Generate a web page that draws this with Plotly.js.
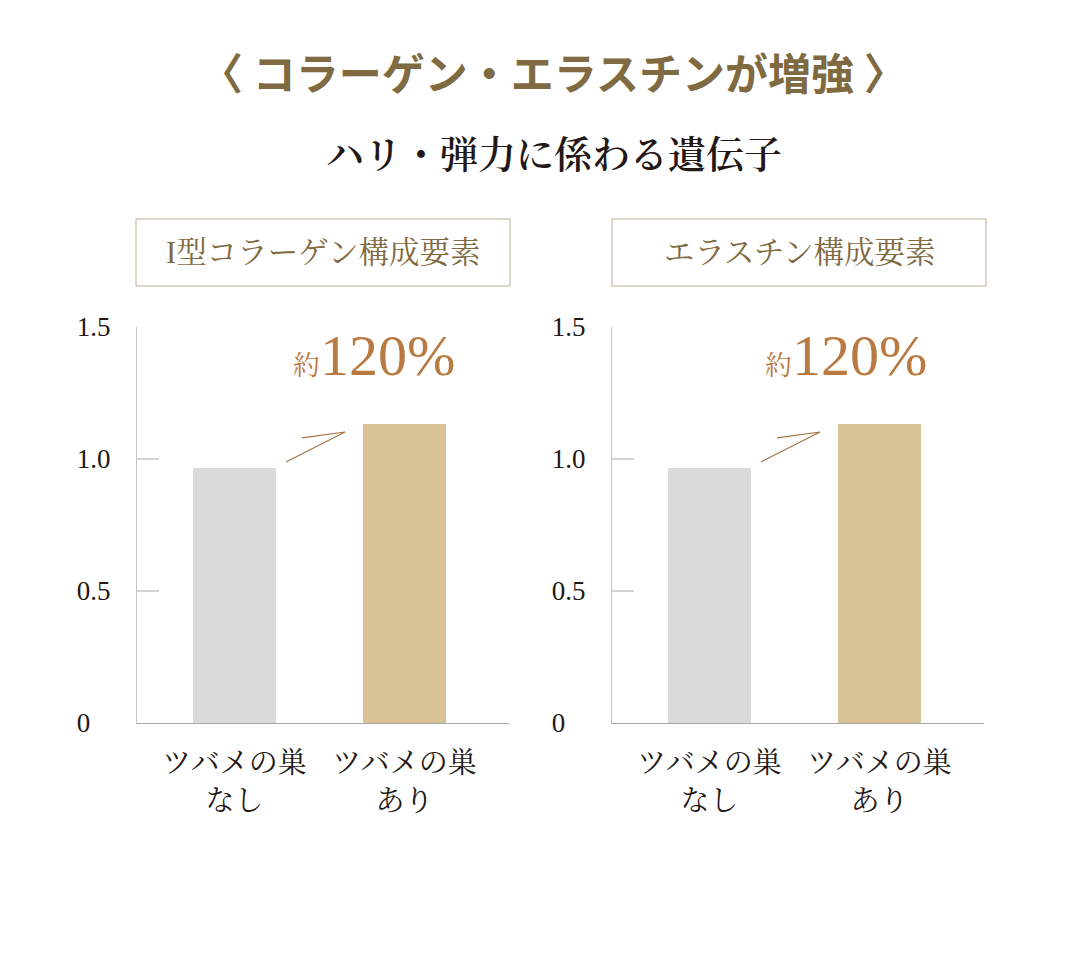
<!DOCTYPE html>
<html>
<head>
<meta charset="utf-8">
<script src="https://cdn.plot.ly/plotly-3.0.1.min.js"></script>
<style>
  html, body { margin: 0; padding: 0; background: #ffffff; }
  #chart { width: 1080px; height: 962px; }
</style>
</head>
<body>
<div id="chart"></div>
<script>
// ---- data ----
const categories = ["ツバメの巣<br>なし", "ツバメの巣<br>あり"];
const collagenValues = [0.966, 1.133];
const elastinValues = [0.966, 1.133];
const barColors = ["#dadada", "#d9c295"];
const yTickVals = [0, 0.5, 1.0, 1.5];
const yTickText = ["0", "0.5", "1.0", "1.5"];
const panelTitles = ["I型コラーゲン構成要素", "エラスチン構成要素"];
const mainTitle = "〈 コラーゲン・エラスチンが増強 〉";
const subTitle = "ハリ・弾力に係わる遺伝子";
const increaseLabel = "約120%";

// ---- layout helpers ----
const W = 1080, H = 962;
const px = v => v / W;
const py = v => 1 - v / H;
const serif = "Liberation Serif, 'Noto Serif CJK JP', 'Noto Sans CJK JP', serif";
const sansJP = "'Noto Sans CJK JP', sans-serif";
const axisColor = "#a8a8a8";
const textDark = "#231815";
const gold = "#7f6a41";
const orange = "#b97a42";

// left-align tick labels by padding short labels with invisible characters
const yTickLabels = yTickText.map(t => t.length < 3
  ? t + '<span style="fill-opacity:0">' + ".5".slice(0, 3 - t.length) + '</span>'
  : t);

function barTrace(vals, xa, ya) {
  return {
    type: "bar", x: categories, y: vals, xaxis: xa, yaxis: ya,
    width: 0.488, marker: { color: barColors, line: { width: 0 } },
    hoverinfo: "skip", showlegend: false
  };
}

function xAxis(d0, d1, anchor) {
  return {
    domain: [px(d0), px(d1)], anchor: anchor, type: "category",
    range: [-0.574, 1.615], showline: true, linecolor: axisColor, linewidth: 1,
    ticks: "", showgrid: false, zeroline: false, fixedrange: true,
    tickfont: { family: serif, size: 29, color: textDark },
    ticklabelstandoff: 14
  };
}
function yAxis(anchor) {
  return {
    domain: [py(723), py(327)], anchor: anchor, range: [0, 1.5],
    tickvals: yTickVals, ticktext: yTickLabels, ticks: "",
    showline: true, linecolor: "#c4c4c4", linewidth: 1.2,
    showgrid: false, zeroline: false, fixedrange: true,
    tickfont: { family: serif, size: 27, color: textDark },
    ticklabelstandoff: 20
  };
}

const panels = [
  { left: 137, right: 509, boxL: 136, boxR: 510, xa: "x", ya: "y", lbl: 295 },
  { left: 612, right: 984, boxL: 612, boxR: 986, xa: "x2", ya: "y2", lbl: 767 }
];

const shapes = [];
const annotations = [
  { text: mainTitle, xref: "paper", yref: "paper", x: px(553), y: py(71),
    xanchor: "center", yanchor: "middle", showarrow: false,
    font: { family: sansJP, size: 43, color: gold, weight: 700 } },
  { text: subTitle, xref: "paper", yref: "paper", x: px(554), y: py(155),
    xanchor: "center", yanchor: "middle", showarrow: false,
    font: { family: serif, size: 38, color: textDark, weight: 600 } }
];

panels.forEach((p, i) => {
  shapes.push({ type: "rect", xref: "paper", yref: "paper",
    x0: px(p.boxL), x1: px(p.boxR), y0: py(286), y1: py(219),
    line: { color: "#bcae93", width: 1 }, fillcolor: "rgba(0,0,0,0)" });
  annotations.push({ text: panelTitles[i], xref: "paper", yref: "paper",
    x: px((p.boxL + p.boxR) / 2), y: py(253), xanchor: "center", yanchor: "middle",
    showarrow: false, font: { family: serif, size: 30.5, color: gold } });
  // inner tick marks
  [0.5, 1.0].forEach(v => {
    shapes.push({ type: "line", xref: p.xa + " domain", yref: p.ya,
      x0: 0, x1: 22 / 372, y0: v, y1: v, line: { color: axisColor, width: 1 } });
  });
  // wedge pointer
  shapes.push({ type: "line", xref: p.xa, yref: p.ya, x0: 0.65, y0: 1.102, x1: 0.397, y1: 1.080,
    line: { color: "#a4703f", width: 1.1 } });
  shapes.push({ type: "line", xref: p.xa, yref: p.ya, x0: 0.65, y0: 1.102, x1: 0.303, y1: 0.989,
    line: { color: "#a4703f", width: 1.1 } });
  annotations.push({
    text: '<span style="font-size:27px">' + increaseLabel.slice(0, 1) + '</span>' + increaseLabel.slice(1),
    xref: "paper", yref: "paper", x: px(p.lbl - 4), y: py(378), xanchor: "left", yanchor: "bottom",
    showarrow: false, font: { family: serif, size: 58, color: orange }, yshift: -12
  });
});

const data = [
  barTrace(collagenValues, "x", "y"),
  barTrace(elastinValues, "x2", "y2")
];

const layout = {
  width: W, height: H,
  margin: { l: 0, r: 0, t: 0, b: 0 },
  paper_bgcolor: "#ffffff", plot_bgcolor: "rgba(0,0,0,0)",
  showlegend: false, bargap: 0,
  xaxis: xAxis(panels[0].left, panels[0].right, "y"),
  yaxis: yAxis("x"),
  xaxis2: xAxis(panels[1].left, panels[1].right, "y2"),
  yaxis2: yAxis("x2"),
  shapes: shapes,
  annotations: annotations
};

Plotly.newPlot("chart", data, layout, { displayModeBar: false, staticPlot: true });
</script>
</body>
</html>
